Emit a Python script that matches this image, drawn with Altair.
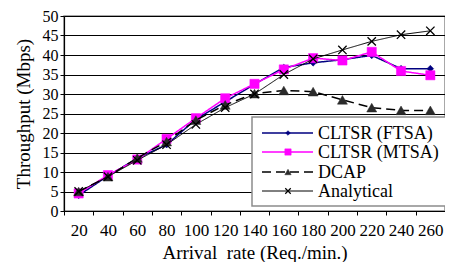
import altair as alt
import pandas as pd

rates = [20, 40, 60, 80, 100, 120, 140, 160, 180, 200, 220, 240, 260]
ftsa = [4.0, 9.0, 13.5, 17.0, 23.5, 28.0, 32.5, 36.8, 38.0, 38.8, 39.9, 36.5, 36.5]
mtsa = [4.5, 9.2, 13.2, 18.5, 23.8, 28.9, 32.6, 36.3, 39.2, 38.6, 40.8, 35.9, 34.8]
dcap = [5.0, 8.8, 13.6, 17.8, 23.3, 27.2, 30.1, 30.9, 30.6, 28.5, 26.5, 25.8, 25.8]
analytical = [5.0, 8.8, 13.0, 17.0, 22.2, 26.5, 30.0, 35.0, 39.0, 41.3, 43.5, 45.2, 46.2]

names = ["CLTSR (FTSA)", "CLTSR (MTSA)", "DCAP", "Analytical"]
values = [ftsa, mtsa, dcap, analytical]
y_ticks = list(range(0, 51, 5))
x_ticks = list(range(10, 271, 10))

FONT = "Liberation Serif"
XPATH = "M-1,-1L1,1M1,-1L-1,1"

rows = []
for n, vals in zip(names, values):
    for r, v in zip(rates, vals):
        rows.append({"series": n, "rate": r, "value": v})
df = pd.DataFrame(rows)

styles = {
    "CLTSR (FTSA)": dict(color="#000080", dash=[1, 0], width=1.5, shape="diamond", size=45,
                         fill="#000080", lsize=22, filled=True),
    "CLTSR (MTSA)": dict(color="#FF00FF", dash=[1, 0], width=1.5, shape="square", size=85,
                         fill="#FF00FF", lsize=40, filled=True),
    "DCAP": dict(color="#000000", dash=[9, 5], width=1.5, shape="triangle-up", size=100,
                 fill="#2b2b2b", lsize=40, filled=True),
    "Analytical": dict(color="#000000", dash=[1, 0], width=1.0, shape=XPATH, size=70,
                       fill="#000000", lsize=30, filled=False),
}

x_enc = alt.X(
    "rate:Q",
    scale=alt.Scale(domain=[10, 270], nice=False, zero=False),
    axis=alt.Axis(
        values=x_ticks,
        labelExpr="datum.value % 20 == 0 ? datum.label : ''",
        tickOpacity={"condition": {"test": "datum.value % 20 == 0", "value": 0}, "value": 1},
        labelOverlap=False,
        labelFlush=False,
        grid=False,
        title="Arrival\u00a0 rate (Req./min.)",
        tickSize=4,
        labelPadding=7,
        labelFontSize=17,
        titlePadding=5,
    ),
)
y_enc = alt.Y(
    "value:Q",
    scale=alt.Scale(domain=[0, 50], nice=False),
    axis=alt.Axis(
        values=y_ticks,
        grid=True,
        title="Throughput (Mbps)",
        tickSize=4,
        labelPadding=2,
        titlePadding=9,
    ),
)

base = alt.Chart(df)
layers = []
for n in names:
    s = styles[n]
    sub = base.transform_filter(alt.datum.series == n)
    layers.append(
        sub.mark_line(color=s["color"], strokeWidth=s["width"], strokeDash=s["dash"]).encode(x=x_enc, y=y_enc)
    )
    if s["filled"]:
        pm = sub.mark_point(shape=s["shape"], size=s["size"], filled=True, fill=s["fill"],
                            stroke=s["fill"], strokeWidth=0.5, opacity=1)
    else:
        pm = sub.mark_point(shape=s["shape"], size=s["size"], filled=False, stroke=s["fill"],
                            strokeWidth=1.3, opacity=1)
    layers.append(pm.encode(x=x_enc, y=y_enc))

# Legend box
leg_df = pd.DataFrame({"series": names})
legend_layers = [
    alt.Chart(leg_df).transform_filter(alt.datum.series == names[0]).mark_rect(
        fill="white", stroke="#8c8c8c", strokeWidth=1.5
    ).encode(x=alt.value(188), x2=alt.value(383), y=alt.value(101), y2=alt.value(190))
]
leg_y = [117, 136, 156, 175]
for n, yy in zip(names, leg_y):
    s = styles[n]
    src = alt.Chart(leg_df).transform_filter(alt.datum.series == n)
    legend_layers.append(
        src.mark_rule(color=s["color"], strokeWidth=s["width"], strokeDash=s["dash"]).encode(
            x=alt.value(198), x2=alt.value(249), y=alt.value(yy)
        )
    )
    if s["filled"]:
        lp = src.mark_point(shape=s["shape"], size=s["lsize"], filled=True, fill=s["fill"],
                            stroke=s["fill"], strokeWidth=0.5, opacity=1)
    else:
        lp = src.mark_point(shape=s["shape"], size=s["lsize"], filled=False, stroke=s["fill"],
                            strokeWidth=1.2, opacity=1)
    legend_layers.append(lp.encode(x=alt.value(224), y=alt.value(yy)))
    legend_layers.append(
        src.mark_text(font=FONT, fontSize=18, align="left", baseline="middle", color="black").encode(
            x=alt.value(254), y=alt.value(yy + 1), text="series:N"
        )
    )

chart = alt.layer(*layers, *legend_layers).properties(
    width=381,
    height=195,
    autosize=alt.AutoSizeParams(type="none"),
    padding={"left": 56, "top": 8, "right": 0, "bottom": 51},
).configure_view(
    stroke="#8c8c8c", strokeWidth=1.5
).configure_axis(
    labelFont=FONT, titleFont=FONT, labelFontSize=16, titleFontSize=19, titleFontWeight="normal",
    labelColor="black", titleColor="black", domainColor="black", tickColor="black",
    gridColor="black", gridWidth=1, domainWidth=1.2, tickWidth=1,
)

chart.save("out.html", embed_options={"renderer": "svg", "actions": False})
